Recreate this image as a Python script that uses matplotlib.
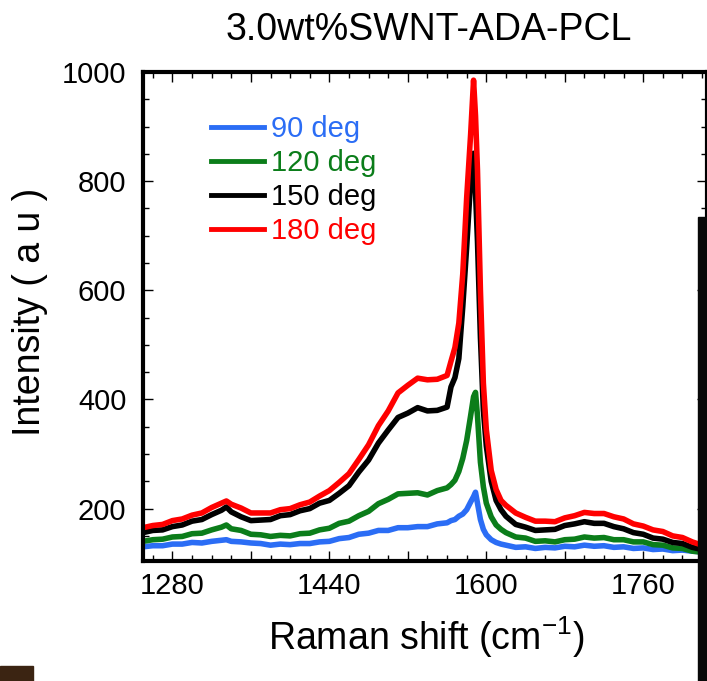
import matplotlib
matplotlib.use("Agg")
import matplotlib.pyplot as plt
from matplotlib.patches import Rectangle
from matplotlib.ticker import MultipleLocator

plt.rcParams['font.family'] = ['Liberation Sans', 'DejaVu Sans']
plt.rcParams['mathtext.default'] = 'regular'

# ── data ──────────────────────────────────────────────
shift = [1250, 1260, 1270, 1280, 1290, 1300, 1310, 1320, 1330, 1335, 1340, 1350,
         1360, 1370, 1380, 1390, 1400, 1410, 1420, 1430, 1440, 1450, 1460, 1470,
         1480, 1490, 1500, 1510, 1520, 1530, 1540, 1550, 1560, 1564, 1568, 1572,
         1576, 1580, 1584, 1587, 1589, 1591, 1594, 1597, 1600, 1605, 1610, 1615,
         1620, 1630, 1640, 1650, 1660, 1670, 1680, 1690, 1700, 1710, 1720, 1730,
         1740, 1750, 1760, 1770, 1780, 1790, 1800, 1810, 1820]

deg90 = [130, 132, 132, 135, 135, 138, 137, 140, 142, 143, 140, 139,
         137, 136, 133, 135, 134, 136, 136, 139, 140, 145, 147, 153,
         155, 160, 160, 165, 165, 167, 167, 172, 174, 178, 180, 186,
         190, 198, 212, 222, 230, 210, 180, 162, 152, 143, 138, 135,
         133, 129, 130, 127, 129, 128, 131, 130, 133, 131, 132, 129,
         130, 127, 128, 125, 126, 123, 124, 122, 121]

deg120 = [140, 143, 144, 148, 149, 154, 155, 161, 166, 170, 163, 160,
          153, 152, 149, 151, 150, 154, 155, 161, 164, 173, 177, 187,
          195, 209, 217, 227, 228, 229, 225, 233, 238, 244, 252, 268,
          292, 325, 370, 405, 413, 370, 285, 240, 210, 185, 170, 162,
          156, 148, 146, 140, 141, 139, 143, 144, 148, 146, 147, 143,
          143, 139, 139, 134, 133, 128, 127, 122, 120]

deg150 = [156, 160, 161, 167, 170, 177, 180, 189, 197, 203, 194, 185,
          178, 179, 180, 187, 189, 196, 200, 210, 215, 228, 242, 267,
          289, 320, 344, 367, 375, 385, 379, 380, 386, 423, 440, 475,
          570, 680, 800, 851, 780, 690, 514, 380, 315, 250, 215, 198,
          186, 171, 166, 160, 161, 162, 169, 172, 176, 173, 173, 167,
          163, 156, 153, 146, 144, 138, 136, 129, 125]

deg180 = [165, 169, 171, 178, 181, 188, 192, 202, 210, 214, 208, 201,
          192, 192, 192, 198, 200, 207, 212, 223, 233, 248, 264, 290,
          317, 352, 379, 412, 426, 439, 436, 437, 444, 470, 495, 540,
          630, 770, 885, 985, 920, 820, 600, 430, 345, 270, 235, 215,
          206, 192, 184, 177, 177, 176, 183, 187, 193, 191, 191, 185,
          181, 172, 168, 161, 158, 150, 147, 139, 133]

labels = ["90 deg", "120 deg", "150 deg", "180 deg"]
colors = ["#2b6df5", "#0b7d1a", "#000000", "#ff0000"]

# ── figure ───────────────────────────────────────────
fig = plt.figure(figsize=(7.07, 6.81), dpi=100)
ax = fig.add_axes([143/707, 1 - 561/681, (707 - 143)/707, (561 - 72)/681])

for y, lab, c in zip([deg90, deg120, deg150, deg180], labels, colors):
    ax.plot(shift, y, color=c, lw=4, label=lab)

ax.set_xlim(1250, 1825)
ax.set_ylim(104, 1000)
ax.xaxis.set_minor_locator(MultipleLocator(20))
ax.yaxis.set_minor_locator(MultipleLocator(50))
ax.set_xticks([1280, 1360, 1440, 1520, 1600, 1680, 1760])
ax.set_xticklabels(["1280", "", "1440", "", "1600", "", "1760"])
ax.set_yticks([200, 400, 600, 800, 1000])

ax.tick_params(which="both", direction="in", top=True, right=True, labelsize=21)
ax.tick_params(which="major", length=7, width=1)
ax.tick_params(which="minor", length=4, width=1)
ax.tick_params(axis="x", pad=8)
ax.tick_params(axis="y", pad=12)
for s in ax.spines.values():
    s.set_linewidth(3)

ax.set_xlabel("Raman shift (cm$^{-1}$)", fontsize=27)
ax.set_ylabel("Intensity ( a u )", fontsize=27)
ax.xaxis.set_label_coords(0.502, -0.11)
ax.yaxis.set_label_coords(-0.168, 0.509)

leg = ax.legend(loc="upper left", bbox_to_anchor=(0.1, 0.935), frameon=False,
                fontsize=21, handlelength=1.8, handletextpad=0.25,
                labelspacing=0.2, borderaxespad=0, labelcolor="linecolor")
for h in leg.get_lines():
    h.set_linewidth(3.5)

fig.text(429/707, 1 - 30/681, "3.0wt%SWNT-ADA-PCL", fontsize=27,
         ha="center", va="center")

# slide bits around the chart
fig.add_artist(Rectangle((698/707, 0), 9/707, 1 - 217/681, transform=fig.transFigure,
                         color="#080808", zorder=10))
fig.add_artist(Rectangle((0, 0), 33/707, 15/681, transform=fig.transFigure,
                         color="#3b2412", zorder=10))

fig.savefig("out.png", dpi=100)
